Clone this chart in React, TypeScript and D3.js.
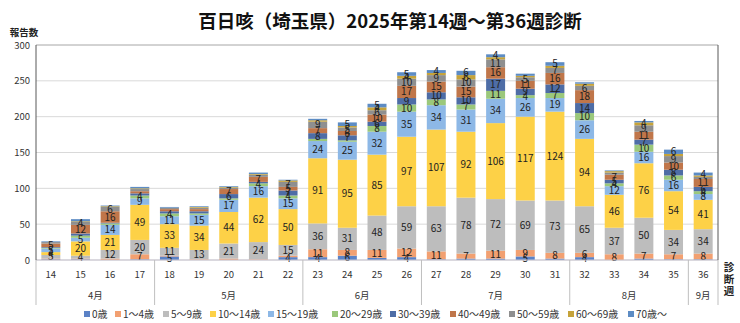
import React from 'react';
import * as d3 from 'd3';

const title = '百日咳（埼玉県）2025年第14週〜第36週診断';
const weeks = ['14','15','16','17','18','19','20','21','22','23','24','25','26','27','28','29','30','31','32','33','34','35','36'];
const monthLabels = ['4月','5月','6月','7月','8月','9月'];
const monthWeekCounts = [4, 5, 4, 5, 4, 1];
const yTicks = [0, 50, 100, 150, 200, 250, 300];

const ageGroups = ['0歳','1〜4歳','5〜9歳','10〜14歳','15〜19歳','20〜29歳','30〜39歳','40〜49歳','50〜59歳','60〜69歳','70歳〜'];
const ageColors = ['#5b82c6','#f2a071','#bdbdbd','#fdd147','#8db8e6','#9bc87b','#4e6da6','#c0764a','#8f8f8f','#c6a33a','#5d8cc4'];

const age0 =    [1,1,0,1,5,0,0,0,4,4,6,3,4,1,2,2,5,2,4,0,2,1,1];
const age1_4 =  [1,1,2,7,1,1,2,1,2,11,8,11,12,11,7,11,9,8,6,8,7,7,8];
const age5_9 =  [5,4,12,20,11,13,21,24,15,36,31,48,59,63,78,72,69,73,65,37,50,34,34];
const age10_14 = [4,20,21,49,33,34,44,62,50,91,95,85,97,107,92,106,117,124,94,46,76,54,41];
const age15_19 = [5,5,14,9,11,15,17,16,15,24,25,32,35,34,31,34,26,19,26,12,16,16,8];
const age20_29 = [1,3,2,4,4,2,2,4,4,3,2,8,10,8,7,11,4,7,10,4,10,6,4];
const age30_39 = [1,3,1,3,3,3,6,2,7,8,7,6,9,10,10,17,9,12,14,5,7,8,6];
const age40_49 = [5,12,16,3,3,3,7,7,5,7,6,10,17,15,15,16,11,16,18,7,11,10,11];
const age50_59 = [2,4,6,3,2,2,2,3,7,9,5,6,10,9,10,11,5,7,6,3,9,9,3];
const age60_69 = [0,1,1,1,0,1,1,1,2,2,2,4,4,3,6,3,2,3,3,2,4,3,2];
const age70 =    [1,3,1,2,1,1,1,2,1,2,5,5,5,4,6,4,3,5,2,1,2,6,4];

const seriesValues = [age0, age1_4, age5_9, age10_14, age15_19, age20_29, age30_39, age40_49, age50_59, age60_69, age70];

const W = 740, H = 323;
const M = { left: 36, right: 718, top: 45, bottom: 260 };
const FONT = '"Noto Sans CJK JP", "Noto Sans", sans-serif';

export default function App() {
  const x = d3.scaleBand<string>().domain(weeks).range([M.left, M.right]).paddingInner(0.36).paddingOuter(0.18);
  const y = d3.scaleLinear().domain([0, 300]).range([M.bottom, M.top]);

  const table = weeks.map((w, i) => {
    const row: any = { week: w };
    ageGroups.forEach((g, j) => { row[g] = seriesValues[j][i]; });
    return row;
  });
  const stacked = d3.stack().keys(ageGroups)(table as any);

  const bounds: number[] = [0];
  monthWeekCounts.forEach((c) => bounds.push(bounds[bounds.length - 1] + c));
  const bandStart = (idx: number) => M.left + (idx / weeks.length) * (M.right - M.left);

  const legendX = [84, 115, 163, 210, 268, 332, 390, 450, 509, 568, 628];

  return (
    <svg width={W} height={H} style={{ position: 'absolute', left: 0, top: 0, background: '#fff' }} fontFamily={FONT}>
      <rect x={0} y={0} width={W} height={H} fill="#fff" />
      <text x={390} y={28} textAnchor="middle" fontSize={18.5} fontWeight="bold" fill="#111">{title}</text>
      <text x={24} y={36} textAnchor="middle" fontSize={9.5} fontWeight="bold" fill="#222">報告数</text>

      {yTicks.map((t) => (
        <line key={'g' + t} x1={M.left} x2={M.right} y1={y(t)} y2={y(t)} stroke={t === 300 ? '#a6a6a6' : '#d9d9d9'} strokeWidth={1} />
      ))}
      {yTicks.map((t) => (
        <text key={'yt' + t} x={30} y={y(t) + 3.5} textAnchor="end" fontSize={9.5} fill="#333">{t}</text>
      ))}

      {stacked.map((s, j) => (
        <g key={'s' + j} fill={ageColors[j]}>
          {s.map((d, i) => (
            <rect key={i} x={x(weeks[i])} width={x.bandwidth()} y={y(d[1])} height={Math.max(0, y(d[0]) - y(d[1]))} />
          ))}
        </g>
      ))}
      {stacked.map((s, j) => (
        <g key={'l' + j} fontSize={10} fill="#222" textAnchor="middle">
          {s.map((d, i) => {
            const v = seriesValues[j][i];
            if (v < 4) return null;
            return (
              <text key={i} x={(x(weeks[i]) as number) + x.bandwidth() / 2} y={(y(d[0]) + y(d[1])) / 2 + 3.5}>{v}</text>
            );
          })}
        </g>
      ))}

      <line x1={M.left} x2={M.right} y1={M.bottom} y2={M.bottom} stroke="#c8c4d0" />
      <line x1={M.left} x2={M.left} y1={M.top} y2={M.bottom} stroke="#595959" />
      <line x1={M.right} x2={M.right} y1={M.top} y2={M.bottom} stroke="#595959" />

      {bounds.map((b, k) => (
        <line key={'mb' + k} x1={bandStart(b)} x2={bandStart(b)} y1={M.bottom} y2={305} stroke="#bfbfbf" />
      ))}
      {weeks.map((w) => (
        <text key={'w' + w} x={(x(w) as number) + x.bandwidth() / 2} y={278} textAnchor="middle" fontSize={9.5} fill="#333">{w}</text>
      ))}
      {monthLabels.map((m, k) => (
        <text key={'m' + k} x={(bandStart(bounds[k]) + bandStart(bounds[k + 1])) / 2} y={299} textAnchor="middle" fontSize={9.5} fill="#333">{m}</text>
      ))}
      <g fontSize={10.5} fontWeight="bold" fill="#222" textAnchor="middle">
        <text x={729} y={271}>診</text>
        <text x={729} y={283}>断</text>
        <text x={729} y={295}>週</text>
      </g>

      {ageGroups.map((g, j) => (
        <g key={'lg' + j}>
          <rect x={legendX[j]} y={311} width={6} height={6} fill={ageColors[j]} />
          <text x={legendX[j] + 8} y={318} fontSize={10} fill="#333">{g}</text>
        </g>
      ))}
    </svg>
  );
}
